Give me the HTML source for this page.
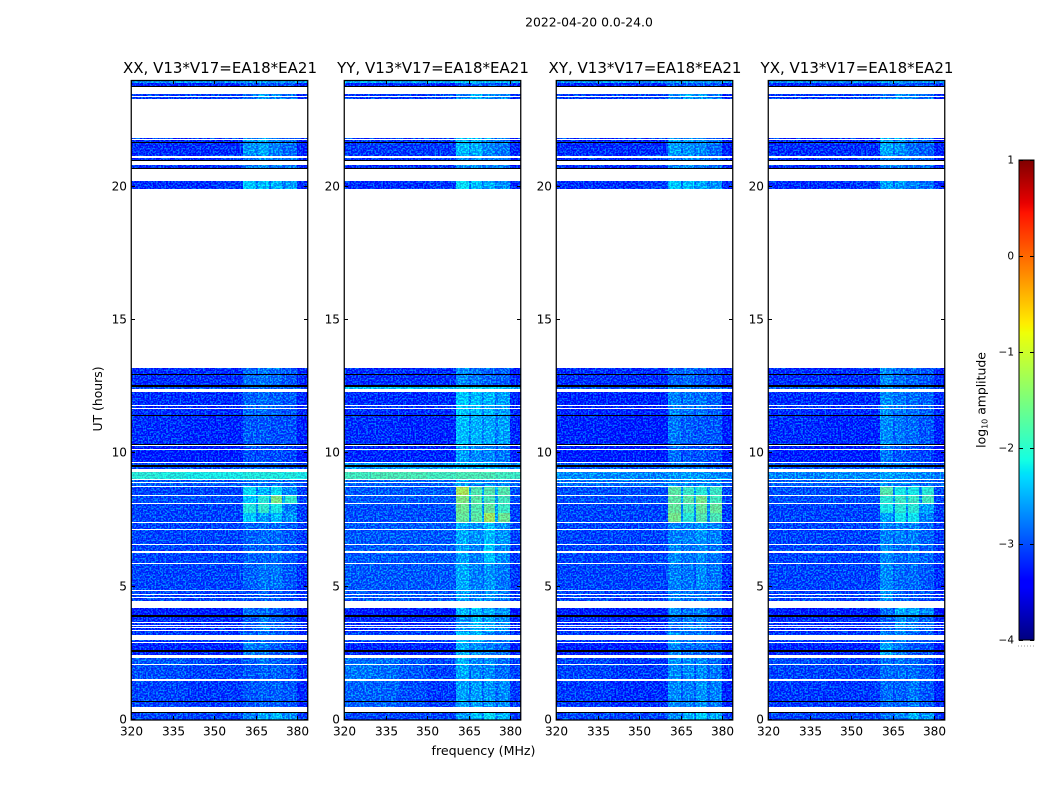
<!DOCTYPE html>
<html lang="en">
<head>
<meta charset="utf-8">
<title>2022-04-20 0.0-24.0</title>
<style>
html,body{margin:0;padding:0;background:#fff;}
body{width:1050px;height:800px;overflow:hidden;}
svg{display:block;font-family:"DejaVu Sans","Liberation Sans",sans-serif;fill:#000;}
</style>
</head>
<body>
<svg id="figure" xmlns="http://www.w3.org/2000/svg" width="1050" height="800" viewBox="0 0 1050 800">
  <defs>
    <filter id="grain" x="0" y="0" width="100%" height="100%" color-interpolation-filters="sRGB">
      <feTurbulence type="fractalNoise" baseFrequency="0.6" numOctaves="1" seed="11" result="n"/>
      <feColorMatrix in="n" type="matrix" result="m" values="0 0 0 0 0.5  4.5 0 0 0 -1.95  0.7 0 0 0 0.2  0 0 0 0 1"/>
      <feComposite in="SourceGraphic" in2="m" operator="arithmetic" k1="0" k2="1" k3="0.5" k4="-0.25"/>
    </filter>
  </defs>
  <text x="589" y="26.5" font-size="12.4" text-anchor="middle">2022-04-20 0.0-24.0</text>
  <g id="panels"></g>
  <text x="483.5" y="755" font-size="12.6" text-anchor="middle">frequency (MHz)</text>
  <text transform="translate(102,399) rotate(-90)" font-size="12.4" text-anchor="middle">UT (hours)</text>
  <g id="colorbar"></g>
</svg>
<script>
// ---- chart data ----
const panelTitles = ["XX, V13*V17=EA18*EA21", "YY, V13*V17=EA18*EA21", "XY, V13*V17=EA18*EA21", "YX, V13*V17=EA18*EA21"];
const freqTicks = [320, 335, 350, 365, 380];
const timeTicks = [0, 5, 10, 15, 20];
const colorTicks = [1, 0, -1, -2, -3, -4];
// channel-group edges (MHz)
const freqEdges = [320, 330, 340, 350, 360.5, 365.2, 365.9, 369.8, 370.5, 374.6, 375.4, 379.7, 383.8];
// time-block edges (hours)
const timeEdges = [0, 0.42, 1.46, 2.06, 2.45, 2.9, 3.3, 3.85, 4.2, 4.9, 5.85, 6.6, 7.43, 7.76, 8.14, 8.44, 8.74, 9.0, 9.37, 9.64, 10.3, 11.44, 12.3, 12.55, 13.2, 20.5, 21.2, 21.85, 23.6, 23.88, 24];
// flagged (blank) scans, hours
const blankScans = [[0.31,0.5],[1.46,1.55],[2.06,2.1],[2.325,2.45],[2.9,2.94],[3.0,3.2],[3.34,3.375],[3.45,3.49],[3.525,3.56],[3.63,3.675],[4.2,4.475],[4.575,4.61],[4.69,4.725],[4.84,4.875],[5.85,5.89],[6.27,6.34],[6.56,6.6],[7.125,7.16],[7.39,7.425],[8.1,8.14],[8.4,8.44],[8.74,8.775],[8.875,8.91],[9.0,9.04],[9.31,9.41],[9.64,9.675],[10.13,10.16],[10.28,10.31],[11.67,11.71],[11.76,11.81],[12.3,12.42],[13.2,19.91],[20.21,20.66],[20.81,20.97],[21.09,21.15],[21.75,21.77],[21.81,23.27],[23.35,23.39],[23.49,23.74]];
// zero-amplitude (black) scans, hours
const zeroScans = [[0.28,0.3],[0.675,0.71],[2.54,2.58],[2.6,2.625],[3.86,3.94],[9.5,9.55],[10.31,10.34],[11.41,11.44],[12.5,12.55],[12.94,12.96],[20.66,20.69],[20.97,21.0],[21.63,21.66],[23.74,23.77]];
// log10 amplitude per time block (bottom to top) and channel group
const xxAmplitude = [
[-2.95,-2.95,-2.95,-2.95,-2.65,-2.8,-2.45,-2.7,-2.35,-2.7,-2.6,-3.0],
[-2.95,-2.95,-3.0,-3.0,-2.85,-2.9,-2.8,-2.9,-2.8,-2.85,-2.85,-3.1],
[-2.9,-2.9,-2.95,-2.95,-2.85,-2.9,-2.8,-2.85,-2.8,-2.85,-2.85,-3.05],
[-2.85,-2.85,-2.9,-2.95,-2.85,-2.85,-2.7,-2.85,-2.8,-2.85,-2.85,-3.05],
[-3.1,-3.1,-3.1,-3.1,-2.65,-2.8,-2.7,-2.8,-2.85,-2.9,-2.9,-3.15],
[-3.0,-3.0,-3.0,-3.0,-2.8,-2.9,-2.75,-2.85,-2.8,-2.9,-2.9,-3.1],
[-3.05,-3.05,-3.05,-3.05,-2.85,-2.9,-2.65,-2.8,-2.8,-2.9,-2.9,-3.1],
[-3.15,-3.15,-3.15,-3.15,-2.75,-2.85,-2.75,-2.85,-2.85,-2.95,-2.95,-3.2],
[-2.95,-2.95,-2.95,-2.95,-2.9,-2.9,-2.8,-2.9,-2.85,-2.9,-2.9,-3.05],
[-2.95,-2.95,-2.95,-2.95,-2.8,-2.85,-2.7,-2.8,-2.7,-2.85,-2.85,-3.05],
[-2.95,-2.95,-2.95,-2.95,-2.8,-2.85,-2.8,-2.85,-2.75,-2.85,-2.85,-3.0],
[-2.95,-2.95,-2.95,-2.95,-2.8,-2.85,-2.75,-2.85,-2.75,-2.85,-2.85,-3.0],
[-2.95,-2.95,-2.95,-2.95,-2.3,-2.75,-2.5,-2.7,-2.35,-2.75,-2.55,-3.0],
[-2.95,-2.95,-2.95,-2.95,-2.05,-2.6,-1.95,-2.5,-2.1,-2.6,-2.7,-3.0],
[-2.9,-2.9,-2.9,-2.9,-2.3,-2.6,-2.0,-2.5,-1.5,-2.5,-1.95,-2.95],
[-2.95,-2.95,-2.95,-2.95,-2.2,-2.7,-2.4,-2.65,-2.2,-2.7,-2.6,-3.0],
[-2.85,-2.85,-2.85,-2.85,-2.75,-2.85,-2.7,-2.8,-2.7,-2.85,-2.75,-2.9],
[-2.0,-2.05,-2.1,-2.1,-2.05,-2.05,-2.05,-2.05,-2.05,-2.1,-2.05,-2.1],
[-2.9,-2.9,-2.9,-2.9,-2.8,-2.85,-2.8,-2.85,-2.8,-2.85,-2.85,-2.95],
[-3.15,-3.15,-3.15,-3.15,-2.9,-2.95,-2.9,-2.95,-2.9,-2.95,-2.95,-3.2],
[-3.05,-3.05,-3.1,-3.1,-2.85,-2.9,-2.85,-2.9,-2.9,-2.9,-2.9,-3.15],
[-3.05,-3.05,-3.05,-3.05,-2.8,-2.85,-2.75,-2.85,-2.8,-2.9,-2.85,-3.1],
[-2.9,-2.9,-2.9,-2.9,-2.75,-2.8,-2.75,-2.8,-2.8,-2.85,-2.8,-3.0],
[-3.05,-3.05,-3.05,-3.05,-2.75,-2.85,-2.7,-2.85,-2.75,-2.9,-2.85,-3.1],
[-3.05,-3.05,-3.05,-3.0,-2.3,-2.7,-2.35,-2.7,-2.4,-2.7,-2.5,-3.05],
[-3.05,-3.05,-3.05,-3.0,-2.7,-2.8,-2.6,-2.75,-2.65,-2.8,-2.7,-3.1],
[-3.05,-3.05,-3.05,-3.05,-2.55,-2.75,-2.45,-2.7,-2.65,-2.8,-2.75,-3.15],
[-3.0,-3.0,-3.0,-2.95,-2.75,-2.8,-2.55,-2.75,-2.65,-2.8,-2.75,-3.1],
[-3.1,-3.1,-3.1,-3.1,-2.9,-3.0,-2.85,-3.0,-2.9,-3.0,-2.95,-3.1],
[-2.55,-2.55,-2.55,-2.55,-2.5,-2.5,-2.5,-2.5,-2.5,-2.5,-2.5,-2.55]];
const yyAmplitude = [
[-2.95,-2.95,-2.95,-2.95,-2.55,-2.8,-2.35,-2.65,-2.2,-2.6,-2.4,-3.0],
[-2.8,-2.8,-2.9,-3.0,-2.5,-2.8,-2.5,-2.8,-2.55,-2.8,-2.6,-3.0],
[-2.7,-2.75,-2.85,-2.95,-2.45,-2.75,-2.6,-2.8,-2.6,-2.8,-2.75,-2.95],
[-2.75,-2.75,-2.85,-2.95,-2.4,-2.75,-2.6,-2.75,-2.55,-2.75,-2.75,-2.95],
[-3.1,-3.1,-3.1,-3.1,-2.45,-2.75,-2.55,-2.7,-2.65,-2.8,-2.75,-3.15],
[-2.95,-2.95,-2.95,-2.95,-2.3,-2.65,-2.4,-2.65,-2.65,-2.75,-2.75,-3.05],
[-3.05,-3.05,-3.05,-3.05,-2.55,-2.65,-2.35,-2.65,-2.45,-2.7,-2.6,-3.1],
[-3.15,-3.15,-3.15,-3.15,-2.4,-2.7,-2.4,-2.65,-2.45,-2.7,-2.55,-3.2],
[-2.85,-2.85,-2.85,-2.85,-2.5,-2.7,-2.65,-2.75,-2.55,-2.7,-2.7,-3.0],
[-2.85,-2.85,-2.85,-2.85,-2.45,-2.7,-2.65,-2.75,-2.55,-2.7,-2.7,-3.0],
[-2.85,-2.85,-2.85,-2.85,-2.5,-2.7,-2.65,-2.7,-2.3,-2.7,-2.6,-3.0],
[-2.85,-2.85,-2.85,-2.85,-2.45,-2.7,-2.55,-2.65,-2.35,-2.65,-2.55,-2.95],
[-2.9,-2.9,-2.9,-2.9,-1.65,-2.6,-1.7,-2.55,-1.3,-2.5,-1.6,-2.95],
[-2.9,-2.9,-2.9,-2.9,-1.6,-2.6,-1.75,-2.55,-1.65,-2.5,-1.9,-2.95],
[-2.85,-2.85,-2.85,-2.85,-1.5,-2.55,-1.7,-2.5,-1.8,-2.5,-1.85,-2.9],
[-2.85,-2.85,-2.85,-2.85,-1.25,-2.5,-1.75,-2.5,-1.75,-2.5,-1.75,-2.9],
[-2.8,-2.8,-2.8,-2.8,-2.5,-2.7,-2.6,-2.7,-2.6,-2.7,-2.6,-2.85],
[-1.85,-1.8,-1.8,-1.85,-1.8,-1.8,-1.8,-1.8,-1.8,-1.85,-1.85,-1.9],
[-2.55,-2.55,-2.55,-2.55,-2.45,-2.5,-2.45,-2.5,-2.45,-2.5,-2.5,-2.6],
[-3.1,-3.1,-3.1,-3.1,-2.5,-2.8,-2.6,-2.8,-2.6,-2.8,-2.7,-3.15],
[-3.05,-3.05,-3.1,-3.1,-2.35,-2.7,-2.4,-2.7,-2.45,-2.7,-2.5,-3.1],
[-3.05,-3.05,-3.05,-3.05,-2.3,-2.65,-2.35,-2.65,-2.4,-2.65,-2.5,-3.1],
[-2.35,-2.35,-2.35,-2.35,-2.2,-2.3,-2.2,-2.3,-2.25,-2.3,-2.3,-2.45],
[-3.05,-3.05,-3.05,-3.05,-2.6,-2.8,-2.7,-2.8,-2.8,-2.85,-2.8,-3.1],
[-3.05,-3.05,-3.05,-3.0,-2.2,-2.65,-2.35,-2.65,-2.45,-2.7,-2.6,-3.05],
[-3.05,-3.05,-3.05,-3.0,-2.6,-2.75,-2.55,-2.75,-2.65,-2.8,-2.7,-3.1],
[-3.0,-3.0,-3.0,-3.0,-2.35,-2.65,-2.4,-2.65,-2.6,-2.75,-2.7,-3.1],
[-3.0,-3.0,-3.0,-2.95,-2.65,-2.75,-2.4,-2.7,-2.55,-2.7,-2.6,-3.05],
[-3.1,-3.1,-3.1,-3.1,-2.85,-2.95,-2.8,-2.95,-2.85,-2.95,-2.9,-3.1],
[-2.4,-2.4,-2.4,-2.4,-2.3,-2.35,-2.3,-2.35,-2.3,-2.35,-2.35,-2.4]];
const xyAmplitude = [
[-2.95,-2.95,-2.95,-2.95,-2.6,-2.8,-2.4,-2.7,-2.25,-2.65,-2.45,-3.0],
[-3.0,-3.0,-3.05,-3.05,-2.6,-2.85,-2.65,-2.85,-2.55,-2.8,-2.65,-3.1],
[-2.95,-2.95,-3.0,-3.0,-2.6,-2.85,-2.6,-2.85,-2.6,-2.8,-2.7,-3.05],
[-2.95,-2.95,-3.0,-3.0,-2.6,-2.8,-2.6,-2.8,-2.6,-2.8,-2.75,-3.05],
[-3.15,-3.15,-3.15,-3.15,-2.6,-2.85,-2.75,-2.85,-2.75,-2.85,-2.8,-3.15],
[-3.0,-3.0,-3.0,-3.0,-2.55,-2.8,-2.7,-2.85,-2.7,-2.85,-2.8,-3.1],
[-3.05,-3.05,-3.05,-3.05,-2.75,-2.85,-2.65,-2.85,-2.65,-2.85,-2.85,-3.1],
[-3.15,-3.15,-3.15,-3.15,-2.6,-2.85,-2.7,-2.85,-2.65,-2.85,-2.85,-3.2],
[-2.95,-2.95,-2.95,-2.95,-2.65,-2.8,-2.7,-2.85,-2.7,-2.8,-2.75,-3.05],
[-2.95,-2.95,-2.95,-2.95,-2.65,-2.8,-2.7,-2.85,-2.6,-2.8,-2.7,-3.05],
[-2.95,-2.95,-2.95,-2.95,-2.6,-2.8,-2.7,-2.8,-2.6,-2.8,-2.7,-3.0],
[-2.95,-2.95,-2.95,-2.95,-2.65,-2.75,-2.65,-2.75,-2.55,-2.75,-2.65,-3.0],
[-2.95,-2.95,-2.95,-2.95,-1.55,-2.6,-2.0,-2.6,-1.75,-2.6,-1.8,-3.0],
[-2.95,-2.95,-2.95,-2.95,-1.65,-2.6,-1.85,-2.6,-1.65,-2.6,-1.65,-3.0],
[-2.9,-2.9,-2.9,-2.9,-1.7,-2.55,-1.7,-2.55,-1.55,-2.55,-1.85,-2.95],
[-2.9,-2.9,-2.9,-2.9,-1.7,-2.55,-1.9,-2.55,-2.0,-2.55,-1.9,-2.95],
[-2.75,-2.75,-2.75,-2.75,-2.6,-2.7,-2.6,-2.7,-2.6,-2.7,-2.65,-2.85],
[-2.6,-2.6,-2.6,-2.65,-2.55,-2.55,-2.5,-2.55,-2.55,-2.6,-2.6,-2.65],
[-2.85,-2.85,-2.85,-2.85,-2.7,-2.8,-2.7,-2.8,-2.7,-2.8,-2.8,-2.9],
[-3.15,-3.15,-3.15,-3.15,-2.75,-2.95,-2.85,-2.95,-2.85,-2.95,-2.9,-3.2],
[-3.1,-3.1,-3.15,-3.15,-2.7,-2.9,-2.8,-2.9,-2.85,-2.9,-2.85,-3.15],
[-3.1,-3.1,-3.1,-3.1,-2.65,-2.85,-2.7,-2.85,-2.7,-2.85,-2.8,-3.15],
[-2.85,-2.85,-2.85,-2.85,-2.6,-2.75,-2.65,-2.75,-2.7,-2.8,-2.75,-2.95],
[-3.05,-3.05,-3.05,-3.05,-2.8,-2.9,-2.75,-2.9,-2.85,-2.95,-2.9,-3.1],
[-3.05,-3.05,-3.05,-3.0,-2.3,-2.7,-2.35,-2.7,-2.45,-2.7,-2.55,-3.05],
[-3.05,-3.05,-3.05,-3.0,-2.65,-2.8,-2.6,-2.75,-2.65,-2.8,-2.75,-3.1],
[-3.05,-3.05,-3.05,-3.05,-2.5,-2.75,-2.55,-2.7,-2.6,-2.75,-2.75,-3.15],
[-3.0,-3.0,-3.0,-2.95,-2.6,-2.8,-2.5,-2.7,-2.55,-2.75,-2.7,-3.1],
[-3.1,-3.1,-3.1,-3.1,-2.85,-2.95,-2.85,-3.0,-2.85,-2.95,-2.95,-3.1],
[-2.55,-2.55,-2.55,-2.55,-2.5,-2.5,-2.5,-2.5,-2.5,-2.5,-2.5,-2.55]];
const yxAmplitude = [
[-2.95,-2.95,-2.95,-2.95,-2.75,-2.85,-2.65,-2.75,-2.4,-2.7,-2.55,-3.0],
[-3.0,-3.0,-3.0,-3.0,-2.75,-2.85,-2.8,-2.85,-2.7,-2.85,-2.85,-3.1],
[-2.95,-2.95,-2.95,-2.95,-2.75,-2.85,-2.75,-2.85,-2.75,-2.85,-2.85,-3.05],
[-2.9,-2.9,-2.95,-2.95,-2.75,-2.85,-2.7,-2.85,-2.75,-2.85,-2.85,-3.05],
[-3.1,-3.1,-3.1,-3.1,-2.5,-2.75,-2.7,-2.8,-2.85,-2.9,-2.9,-3.15],
[-3.0,-3.0,-3.0,-3.0,-2.65,-2.85,-2.65,-2.85,-2.8,-2.9,-2.85,-3.1],
[-3.05,-3.05,-3.05,-3.05,-2.8,-2.85,-2.55,-2.75,-2.65,-2.85,-2.8,-3.1],
[-3.15,-3.15,-3.15,-3.15,-2.75,-2.85,-2.45,-2.7,-2.45,-2.75,-2.6,-3.2],
[-2.95,-2.95,-2.95,-2.95,-2.55,-2.85,-2.8,-2.9,-2.85,-2.9,-2.9,-3.05],
[-2.95,-2.95,-2.95,-2.95,-2.6,-2.85,-2.75,-2.85,-2.75,-2.85,-2.85,-3.05],
[-2.95,-2.95,-2.95,-2.95,-2.6,-2.85,-2.75,-2.85,-2.7,-2.85,-2.8,-3.0],
[-2.95,-2.95,-2.95,-2.95,-2.65,-2.8,-2.65,-2.8,-2.65,-2.8,-2.8,-3.0],
[-2.95,-2.95,-2.95,-2.95,-2.5,-2.75,-2.15,-2.7,-2.15,-2.7,-2.65,-3.0],
[-2.95,-2.95,-2.95,-2.95,-2.1,-2.65,-2.0,-2.6,-2.0,-2.6,-2.5,-3.0],
[-2.9,-2.9,-2.9,-2.9,-2.0,-2.6,-1.9,-2.55,-1.9,-2.6,-1.85,-2.95],
[-2.9,-2.9,-2.9,-2.9,-1.75,-2.6,-2.1,-2.6,-2.1,-2.6,-2.0,-2.95],
[-2.8,-2.8,-2.8,-2.8,-2.6,-2.75,-2.65,-2.75,-2.7,-2.8,-2.75,-2.85],
[-2.65,-2.65,-2.6,-2.6,-2.5,-2.55,-2.55,-2.6,-2.6,-2.65,-2.65,-2.7],
[-2.85,-2.85,-2.85,-2.85,-2.7,-2.8,-2.7,-2.8,-2.75,-2.8,-2.8,-2.9],
[-3.15,-3.15,-3.15,-3.15,-2.7,-2.95,-2.85,-2.95,-2.9,-2.95,-2.95,-3.2],
[-3.05,-3.05,-3.1,-3.1,-2.6,-2.85,-2.7,-2.85,-2.75,-2.9,-2.85,-3.15],
[-3.05,-3.05,-3.05,-3.05,-2.6,-2.8,-2.7,-2.8,-2.75,-2.85,-2.8,-3.1],
[-2.85,-2.85,-2.85,-2.85,-2.55,-2.75,-2.7,-2.75,-2.75,-2.8,-2.75,-2.95],
[-3.05,-3.05,-3.05,-3.05,-2.6,-2.85,-2.75,-2.85,-2.8,-2.9,-2.85,-3.1],
[-3.05,-3.05,-3.05,-3.0,-2.5,-2.75,-2.55,-2.75,-2.65,-2.8,-2.75,-3.05],
[-3.05,-3.05,-3.05,-3.0,-2.65,-2.8,-2.7,-2.8,-2.7,-2.85,-2.8,-3.1],
[-3.05,-3.05,-3.05,-3.05,-2.45,-2.75,-2.55,-2.75,-2.75,-2.85,-2.8,-3.15],
[-3.0,-3.0,-3.0,-2.95,-2.75,-2.8,-2.6,-2.75,-2.65,-2.8,-2.75,-3.1],
[-3.1,-3.1,-3.1,-3.1,-2.9,-3.0,-2.9,-3.0,-2.9,-3.0,-2.95,-3.1],
[-2.55,-2.55,-2.55,-2.55,-2.5,-2.5,-2.5,-2.5,-2.5,-2.5,-2.5,-2.55]];
const panelAmplitudes = [xxAmplitude, yyAmplitude, xyAmplitude, yxAmplitude];

// ---- layout and scales ----
const SVGNS = "http://www.w3.org/2000/svg";
const panelLefts = [131, 344, 556, 768];
const PANEL_W = 177, PANEL_TOP = 80, PANEL_H = 640;
const FREQ_MIN = 320, FREQ_MAX = 383.8, TIME_MAX = 24;
const CB_LEFT = 1019, CB_W = 15, CB_TOP = 160, CB_H = 480, CB_MIN = -4, CB_MAX = 1;

function xScale(left, mhz) { return left + (mhz - FREQ_MIN) / (FREQ_MAX - FREQ_MIN) * PANEL_W; }
function yScale(hours) { return PANEL_TOP + PANEL_H - hours / TIME_MAX * PANEL_H; }
function cbScale(v) { return CB_TOP + CB_H - (v - CB_MIN) / (CB_MAX - CB_MIN) * CB_H; }
function ramp(f, pts) {
  for (let i = 1; i < pts.length; i++) {
    if (f <= pts[i][0]) {
      const a = pts[i - 1], b = pts[i];
      return a[1] + (b[1] - a[1]) * (f - a[0]) / (b[0] - a[0]);
    }
  }
  return pts[pts.length - 1][1];
}
function jet(v) {
  const f = Math.max(0, Math.min(1, (v - CB_MIN) / (CB_MAX - CB_MIN)));
  const r = ramp(f, [[0,0],[0.35,0],[0.66,1],[0.89,1],[1,0.5]]);
  const g = ramp(f, [[0,0],[0.125,0],[0.375,1],[0.64,1],[0.91,0],[1,0]]);
  const b = ramp(f, [[0,0.5],[0.11,1],[0.34,1],[0.65,0],[1,0]]);
  return "rgb(" + Math.round(r * 255) + "," + Math.round(g * 255) + "," + Math.round(b * 255) + ")";
}
function make(tag, attrs, parent) {
  const el = document.createElementNS(SVGNS, tag);
  for (const k in attrs) el.setAttribute(k, attrs[k]);
  parent.appendChild(el);
  return el;
}
function tickLine(parent, x1, y1, x2, y2) {
  const t = make("line", {x1: x1, y1: y1, x2: x2, y2: y2, stroke: "#000", "stroke-width": 1, "shape-rendering": "crispEdges"}, parent);
  
  
}

// ---- draw panels ----
const panelsRoot = document.getElementById("panels");
panelTitles.forEach(function (title, p) {
  const left = panelLefts[p];
  const g = make("g", {}, panelsRoot);
  
  

  const heat = make("g", {filter: "url(#grain)", "shape-rendering": "crispEdges"}, g);
  
  
  const table = panelAmplitudes[p];
  for (let r = 0; r < table.length; r++) {
    const yTop = Math.round(yScale(timeEdges[r + 1]));
    const yBot = Math.round(yScale(timeEdges[r]));
    for (let c = 0; c < table[r].length; c++) {
      const x0 = Math.round(xScale(left, freqEdges[c]));
      const x1 = Math.round(xScale(left, freqEdges[c + 1]));
      const cell = make("rect", {x: x0, y: yTop, width: x1 - x0, height: yBot - yTop, fill: jet(table[r][c])}, heat);
      
      
    }
  }
  blankScans.forEach(function (s) {
    const y0 = Math.round(yScale(s[1]));
    const y1 = Math.max(y0 + 1, Math.round(yScale(s[0])));
    const bar = make("rect", {x: left, y: y0, width: PANEL_W, height: y1 - y0, fill: "#fff", "shape-rendering": "crispEdges"}, g);
    
    
  });
  zeroScans.forEach(function (s) {
    const y0 = Math.round(yScale(s[1]));
    const y1 = Math.max(y0 + 1, Math.round(yScale(s[0])));
    const bar = make("rect", {x: left, y: y0, width: PANEL_W, height: y1 - y0, fill: "#000", "shape-rendering": "crispEdges"}, g);
    
    
  });

  freqTicks.forEach(function (f) {
    const x = Math.round(xScale(left, f)) + 0.5;
    tickLine(g, x, PANEL_TOP, x, PANEL_TOP + 4);
    tickLine(g, x, PANEL_TOP + PANEL_H - 4, x, PANEL_TOP + PANEL_H);
    const lab = make("text", {x: x, y: 735.5, "font-size": 12.1, "text-anchor": "middle"}, g);
    
    
    lab.textContent = f;
  });
  timeTicks.forEach(function (t) {
    const y = Math.round(yScale(t)) - 0.5;
    tickLine(g, left, y, left + 4, y);
    tickLine(g, left + PANEL_W - 4, y, left + PANEL_W, y);
    const lab = make("text", {x: left - 4, y: y + 3.8, "font-size": 12.1, "text-anchor": "end"}, g);
    
    
    lab.textContent = t;
  });

  const frame = make("rect", {x: left + 0.25, y: PANEL_TOP + 0.5, width: PANEL_W - 0.5, height: PANEL_H - 0.5, fill: "none", stroke: "#000", "stroke-width": 1.25}, g);
  
  

  const ttl = make("text", {x: left + PANEL_W / 2 + 0.5, y: 73, "font-size": 15, "text-anchor": "middle"}, g);
  
  
  ttl.textContent = title;
});

// ---- draw colour bar ----
const cb = document.getElementById("colorbar");
for (let py = 0; py < CB_H; py++) {
  const v = CB_MAX - (py + 0.5) / CB_H * (CB_MAX - CB_MIN);
  const strip = make("rect", {x: CB_LEFT, y: CB_TOP + py, width: CB_W, height: 1, fill: jet(v), "shape-rendering": "crispEdges"}, cb);
  
  
}
colorTicks.forEach(function (v) {
  const y = Math.round(cbScale(v)) + 0.5;
  tickLine(cb, CB_LEFT, y, CB_LEFT + 4, y);
  tickLine(cb, CB_LEFT + CB_W - 4, y, CB_LEFT + CB_W, y);
  const lab = make("text", {x: CB_LEFT - 5, y: y + 3, "font-size": 10.5, "text-anchor": "end"}, cb);
  
  
  lab.textContent = v < 0 ? "\u2212" + Math.abs(v) : String(v);
});
const cbFrame = make("rect", {x: CB_LEFT, y: CB_TOP, width: CB_W, height: CB_H, fill: "none", stroke: "#000", "stroke-width": 1}, cb);


const dots = make("line", {x1: 1018, y1: 646, x2: 1034, y2: 646, stroke: "#999", "stroke-width": 1, "stroke-dasharray": "1 2"}, cb);


const cbTitle = make("text", {transform: "translate(985.5,400) rotate(-90)", "font-size": 12.4, "text-anchor": "middle"}, cb);


cbTitle.textContent = "log";
const cbSub = make("tspan", {"font-size": 8, dy: 2}, cbTitle);
cbSub.textContent = "10";
const cbRest = make("tspan", {dy: -2}, cbTitle);
cbRest.textContent = " amplitude";
</script>
</body>
</html>
